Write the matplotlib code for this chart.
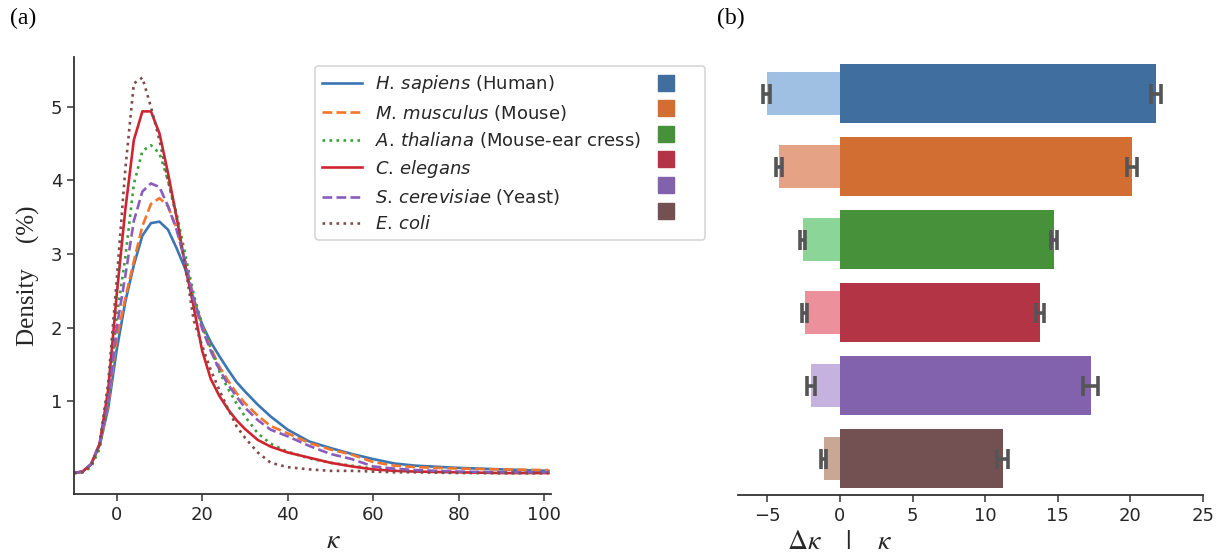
import numpy as np
import matplotlib
matplotlib.use('Agg')
import matplotlib.pyplot as plt
from matplotlib.lines import Line2D
from matplotlib.transforms import blended_transform_factory

# kappa grid where the density curves were read
kappa = [-10, -8, -6, -4, -2, 0, 2, 4, 6, 8, 10, 12, 14, 16, 18, 20, 22, 24, 26, 28,
         30, 33, 36, 40, 45, 50, 55, 60, 65, 70, 80, 90, 101]

human = [0.02, 0.04, 0.14, 0.40, 0.90, 1.70, 2.35, 2.85, 3.25, 3.42, 3.44, 3.33, 3.08, 2.80, 2.38, 2.04, 1.80, 1.61, 1.43, 1.26,
         1.13, 0.95, 0.79, 0.61, 0.45, 0.36, 0.28, 0.21, 0.15, 0.12, 0.09, 0.07, 0.05]
mouse = [0.02, 0.04, 0.14, 0.40, 0.95, 1.85, 2.40, 2.90, 3.38, 3.68, 3.76, 3.65, 3.35, 2.90, 2.40, 2.01, 1.72, 1.47, 1.28, 1.11,
         0.97, 0.80, 0.66, 0.56, 0.43, 0.34, 0.27, 0.17, 0.12, 0.10, 0.08, 0.07, 0.06]
cress = [0.02, 0.03, 0.10, 0.35, 1.00, 2.15, 2.95, 3.95, 4.40, 4.48, 4.37, 4.00, 3.55, 3.00, 2.45, 2.04, 1.72, 1.40, 1.17, 0.97,
         0.79, 0.56, 0.42, 0.31, 0.22, 0.16, 0.12, 0.08, 0.06, 0.04, 0.03, 0.02, 0.02]
worm = [0.02, 0.04, 0.14, 0.42, 1.15, 2.45, 3.60, 4.55, 4.94, 4.94, 4.64, 4.10, 3.50, 2.85, 2.28, 1.68, 1.30, 1.07, 0.89, 0.74,
        0.62, 0.47, 0.38, 0.30, 0.23, 0.16, 0.11, 0.07, 0.05, 0.04, 0.03, 0.02, 0.02]
yeast = [0.02, 0.04, 0.14, 0.42, 1.00, 2.00, 2.70, 3.45, 3.85, 3.96, 3.91, 3.65, 3.33, 2.90, 2.38, 1.98, 1.68, 1.43, 1.23, 1.06,
         0.91, 0.74, 0.61, 0.52, 0.39, 0.28, 0.21, 0.11, 0.08, 0.06, 0.04, 0.03, 0.03]
ecoli = [0.02, 0.03, 0.12, 0.42, 1.25, 2.65, 4.15, 5.32, 5.40, 5.00, 4.55, 4.00, 3.50, 2.85, 2.10, 1.75, 1.42, 1.15, 0.90, 0.66,
         0.50, 0.30, 0.16, 0.10, 0.07, 0.05, 0.05, 0.04, 0.03, 0.03, 0.02, 0.02, 0.02]

labels = [r'$H.\,sapiens$ (Human)', r'$M.\,musculus$ (Mouse)', r'$A.\,thaliana$ (Mouse-ear cress)',
          r'$C.\,elegans$', r'$S.\,cerevisiae$ (Yeast)', r'$E.\,coli$']

# panel (b): mean kappa and delta kappa with errors
kappa_mean = [21.78, 20.10, 14.73, 13.79, 17.27, 11.20]
kappa_err = [0.35, 0.35, 0.20, 0.28, 0.50, 0.38]
dkappa_mean = [-5.03, -4.18, -2.57, -2.43, -1.98, -1.13]
dkappa_err = [0.24, 0.20, 0.15, 0.17, 0.27, 0.20]

line_colors = ['#3a76b4', '#f5752a', '#3aa03a', '#d02530', '#8a5cbd', '#7f4c4c']
line_styles = ['-', '--', ':', '-', '--', ':']
dark = ['#406e9e', '#d36e32', '#47913b', '#b33444', '#8362ad', '#735052']
light = ['#a0c0e3', '#e5a285', '#8ad597', '#ec909b', '#c5b2de', '#c8a895']
ink = '#262626'

plt.rcParams['axes.edgecolor'] = '#333333'
plt.rcParams['xtick.color'] = '#333333'
plt.rcParams['ytick.color'] = '#333333'
plt.rcParams['xtick.labelcolor'] = ink
plt.rcParams['ytick.labelcolor'] = ink

fig = plt.figure(figsize=(12.3, 5.54), dpi=100)
ax1 = fig.add_axes([74 / 1230, 1 - 494 / 554, 477 / 1230, 437 / 554])
ax2 = fig.add_axes([738 / 1230, 1 - 495 / 554, 465 / 1230, 438 / 554])

# (a) density curves
curves = [human, mouse, cress, worm, yeast, ecoli]
handles = []
for c, col, ls in zip(curves, line_colors, line_styles):
    h, = ax1.plot(kappa, c, color=col, ls=ls, lw=1.9)
    handles.append(h)

ax1.set_xlim(-10, 101.6)
ax1.set_ylim(-0.265, 5.68)
ax1.set_xticks([0, 20, 40, 60, 80, 100])
ax1.set_yticks([1, 2, 3, 4, 5])
ax1.tick_params(labelsize=13, length=5, width=1.1)
for s in ['top', 'right']:
    ax1.spines[s].set_visible(False)
ax1.spines['left'].set_linewidth(1.3)
ax1.spines['bottom'].set_linewidth(1.3)
ax1.set_ylabel('Density    (%)', family='Liberation Serif', fontsize=18, color=ink, labelpad=8)
ax1.set_xlabel(r'$\kappa$', math_fontfamily='stix', fontsize=20, color=ink)
ax1.xaxis.label.set_va('center')
ax1.xaxis.set_label_coords(0.543, -0.105)

squares = [Line2D([], [], ls='none', marker='s', markersize=11.5, color=c) for c in dark]
leg = ax1.legend(handles + squares, labels + [''] * 6, ncol=2, fontsize=13,
                 loc='upper left', bbox_to_anchor=(315 / 1230, 1 - 65.7 / 554),
                 bbox_transform=fig.transFigure, borderaxespad=0,
                 handlelength=2.2, handletextpad=0.7, columnspacing=0.3,
                 labelspacing=0.42, borderpad=0.4, frameon=True, fancybox=True)
leg.get_frame().set_edgecolor('#cccccc')
leg.get_frame().set_linewidth(1.2)
for t in leg.get_texts():
    t.set_color(ink)

# (b) bars
ypos = np.arange(len(kappa_mean))
ax2.barh(ypos, dkappa_mean, height=0.6, color=light)
ax2.barh(ypos, kappa_mean, height=0.8, color=dark)
ax2.errorbar(dkappa_mean, ypos, xerr=dkappa_err, fmt='none', ecolor='#555555',
             elinewidth=2.6, capsize=7, capthick=2.6)
ax2.errorbar(kappa_mean, ypos, xerr=kappa_err, fmt='none', ecolor='#555555',
             elinewidth=2.6, capsize=7, capthick=2.6)
ax2.set_xlim(-7.02, 25)
ax2.set_ylim(5.5, -0.5)
ax2.set_xticks([-5, 0, 5, 10, 15, 20, 25])
ax2.set_yticks([])
ax2.tick_params(labelsize=13, length=5, width=1.1)
for s in ['top', 'right', 'left']:
    ax2.spines[s].set_visible(False)
ax2.spines['bottom'].set_linewidth(1.3)
ax2.set_xlabel(r'$\Delta\kappa$   $|$   $\kappa$', math_fontfamily='stix', fontsize=20, color=ink)
ax2.xaxis.label.set_va('center')
ax2.xaxis.set_label_coords(0, -0.105, transform=blended_transform_factory(ax2.transData, ax2.transAxes))

fig.text(23 / 1230, 1 - 18 / 554, '(a)', family='Liberation Serif', fontsize=17, ha='center', va='center', color='black')
fig.text(731 / 1230, 1 - 18 / 554, '(b)', family='Liberation Serif', fontsize=17, ha='center', va='center', color='black')

fig.savefig('out.png', dpi=100)
